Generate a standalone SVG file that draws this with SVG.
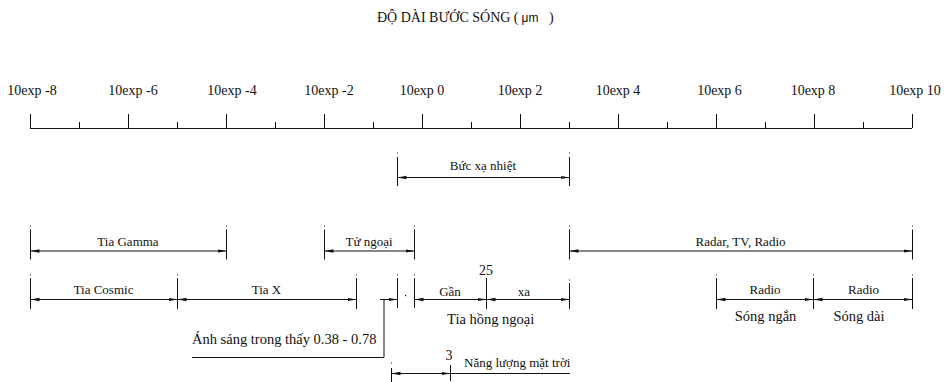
<svg xmlns="http://www.w3.org/2000/svg" width="951" height="382" viewBox="0 0 951 382" font-family="'Liberation Serif', 'Times New Roman', Times, serif">
<style>
  .ax { font-size: 14px; text-anchor: middle; }
  .lb { font-size: 13px; text-anchor: middle; }
  .lg { font-size: 14.5px; text-anchor: middle; }
  .ln { stroke: #111; stroke-width: 1; fill: none; }
  .ext { stroke: #111; stroke-width: 1; fill: none; }
  .dim { stroke: #111; stroke-width: 1; fill: none; }
  .dot { fill: #111; }
  .t { fill: #111; font-family: 'Liberation Serif', 'Times New Roman', Times, serif; }
</style>
<defs>
  <marker id="ah" markerUnits="userSpaceOnUse" markerWidth="10" markerHeight="6" refX="9" refY="3" orient="auto-start-reverse">
    <path d="M0,1.3 L9,3 L0,4.7 Z" fill="#111"/>
  </marker>
</defs>
<rect width="951" height="382" fill="#fff"/>

<g id="title">
  <text class="t" x="377" y="22" font-size="14">ĐỘ DÀI BƯỚC SÓNG (</text>
  <text x="521.5" y="22" font-family="'Liberation Sans', Arial, sans-serif" font-size="12" fill="#111">μm</text>
  <text class="t" x="549" y="22" font-size="14">)</text>
</g>

<g id="axis">
  <line class="ln" x1="30" y1="128.5" x2="912" y2="128.5"/>
  <path class="ln" d="M30.5,114V128 M128.5,114V128 M226.5,114V128 M324.5,114V128 M422.5,114V128 M520.5,114V128 M618.5,114V128 M716.5,114V128 M814.5,114V128 M912.5,114V128"/>
  <path class="ln" d="M79.5,122V128 M177.5,122V128 M275.5,122V128 M373.5,122V128 M471.5,122V128 M569.5,122V128 M667.5,122V128 M765.5,122V128 M863.5,122V128"/>
  <text class="t ax" x="32" y="95">10exp -8</text>
  <text class="t ax" x="133" y="95">10exp -6</text>
  <text class="t ax" x="232" y="95">10exp -4</text>
  <text class="t ax" x="329" y="95">10exp -2</text>
  <text class="t ax" x="422" y="95">10exp 0</text>
  <text class="t ax" x="520" y="95">10exp 2</text>
  <text class="t ax" x="618" y="95">10exp 4</text>
  <text class="t ax" x="719.5" y="95">10exp 6</text>
  <text class="t ax" x="813" y="95">10exp 8</text>
  <text class="t ax" x="915" y="95">10exp 10</text>
</g>

<g id="buc-xa-nhiet">
  <path class="ext" d="M397.5,157V186 M569.5,157V186"/>
  <rect class="dot" x="397" y="152.5" width="1" height="1"/>
  <rect class="dot" x="569" y="152.5" width="1" height="1"/>
  <text class="t lb" x="483" y="170">Bức xạ nhiệt</text>
</g>

<g id="tia-gamma">
  <path class="ext" d="M30.5,229.5V259.5 M226.5,229.5V259.5"/>
  <rect class="dot" x="30" y="225.5" width="1" height="1"/>
  <rect class="dot" x="226" y="225.5" width="1" height="1"/>
  <text class="t lb" x="128" y="245.5">Tia Gamma</text>
</g>

<g id="tu-ngoai">
  <path class="ext" d="M324.5,229.5V259.5 M414.5,229.5V259.5"/>
  <rect class="dot" x="324" y="225.5" width="1" height="1"/>
  <rect class="dot" x="414" y="225.5" width="1" height="1"/>
  <text class="t lb" x="369" y="245.5">Tử ngoại</text>
</g>

<g id="radar-tv-radio">
  <path class="ext" d="M569.5,229.5V259.5 M912.5,229.5V259.5"/>
  <rect class="dot" x="569" y="225.5" width="1" height="1"/>
  <rect class="dot" x="912" y="225.5" width="1" height="1"/>
  <text class="t lb" x="740.5" y="245.5">Radar, TV, Radio</text>
</g>

<g id="tia-cosmic">
  <path class="ext" d="M30.5,278V309 M177.5,278V309"/>
  <rect class="dot" x="30" y="274.5" width="1" height="1"/>
  <rect class="dot" x="177" y="274.5" width="1" height="1"/>
  <text class="t lb" x="103.5" y="294">Tia Cosmic</text>
</g>

<g id="tia-x">
  <path class="ext" d="M356.5,278V309"/>
  <rect class="dot" x="356" y="274.5" width="1" height="1"/>
  <text class="t lb" x="266.5" y="294">Tia X</text>
</g>

<g id="anh-sang">
  <path class="ext" d="M397.5,278V308 M414.5,278V308"/>
  <rect class="dot" x="397" y="274.5" width="1" height="1"/>
  <rect class="dot" x="414" y="274.5" width="1" height="1"/>
  <rect class="dot" x="405" y="295" width="1.2" height="1.2"/>
  <polyline class="ln" points="384,300 384,357.5 192,357.5"/>
  <text class="t" x="192" y="343.5" font-size="14.5">Ánh sáng trong thấy 0.38 - 0.78</text>
</g>

<g id="hong-ngoai">
  <path class="ext" d="M486.5,278V309 M569.5,283V309"/>
  <rect class="dot" x="569" y="279.5" width="1" height="1"/>
  <text class="t ax" x="486" y="275">25</text>
  <text class="t lb" x="450" y="295.5">Gần</text>
  <text class="t lb" x="524" y="295.5">xa</text>
  <text class="t lg" x="490.7" y="324">Tia hồng ngoại</text>
</g>

<g id="radio">
  <path class="ext" d="M716.5,278V309 M813.5,278V309 M912.5,278V309"/>
  <rect class="dot" x="716" y="274.5" width="1" height="1"/>
  <rect class="dot" x="813" y="274.5" width="1" height="1"/>
  <rect class="dot" x="912" y="274.5" width="1" height="1"/>
  <text class="t lb" x="765" y="294">Radio</text>
  <text class="t lb" x="863.5" y="294">Radio</text>
  <text class="t lg" x="765.5" y="321">Sóng ngắn</text>
  <text class="t lg" x="859" y="321">Sóng dài</text>
</g>

<g id="nang-luong">
  <path class="ext" d="M391.5,368V382 M450.5,365V381"/>
  <rect class="dot" x="391" y="362.5" width="1" height="1"/>
  <text class="t ax" x="449" y="360">3</text>
  <text class="t" x="464" y="367.3" font-size="13">Năng lượng mặt trời</text>
</g>

<g id="connectors">
  <line class="dim" x1="397.5" y1="177.5" x2="569.5" y2="177.5" marker-start="url(#ah)" marker-end="url(#ah)"/>
  <line class="dim" x1="30.5" y1="251" x2="226.5" y2="251" marker-start="url(#ah)" marker-end="url(#ah)"/>
  <line class="dim" x1="324.5" y1="251" x2="414.5" y2="251" marker-start="url(#ah)" marker-end="url(#ah)"/>
  <line class="dim" x1="569.5" y1="251" x2="912.5" y2="251" marker-start="url(#ah)" marker-end="url(#ah)"/>
  <line class="dim" x1="30.5" y1="299.5" x2="177.5" y2="299.5" marker-start="url(#ah)" marker-end="url(#ah)"/>
  <line class="dim" x1="177.5" y1="299.5" x2="356.5" y2="299.5" marker-start="url(#ah)" marker-end="url(#ah)"/>
  <line class="dim" x1="380" y1="299.5" x2="397.5" y2="299.5" marker-end="url(#ah)"/>
  <line class="dim" x1="414.5" y1="299.5" x2="486.5" y2="299.5" marker-start="url(#ah)" marker-end="url(#ah)"/>
  <line class="dim" x1="486.5" y1="299.5" x2="569.5" y2="299.5" marker-start="url(#ah)" marker-end="url(#ah)"/>
  <line class="dim" x1="716.5" y1="299.5" x2="813.5" y2="299.5" marker-start="url(#ah)" marker-end="url(#ah)"/>
  <line class="dim" x1="813.5" y1="299.5" x2="912.5" y2="299.5" marker-start="url(#ah)" marker-end="url(#ah)"/>
  <line class="dim" x1="391.5" y1="373.5" x2="450.5" y2="373.5" marker-start="url(#ah)" marker-end="url(#ah)"/>
  <line class="dim" x1="450.5" y1="373.5" x2="570" y2="373.5"/>
</g>
</svg>
